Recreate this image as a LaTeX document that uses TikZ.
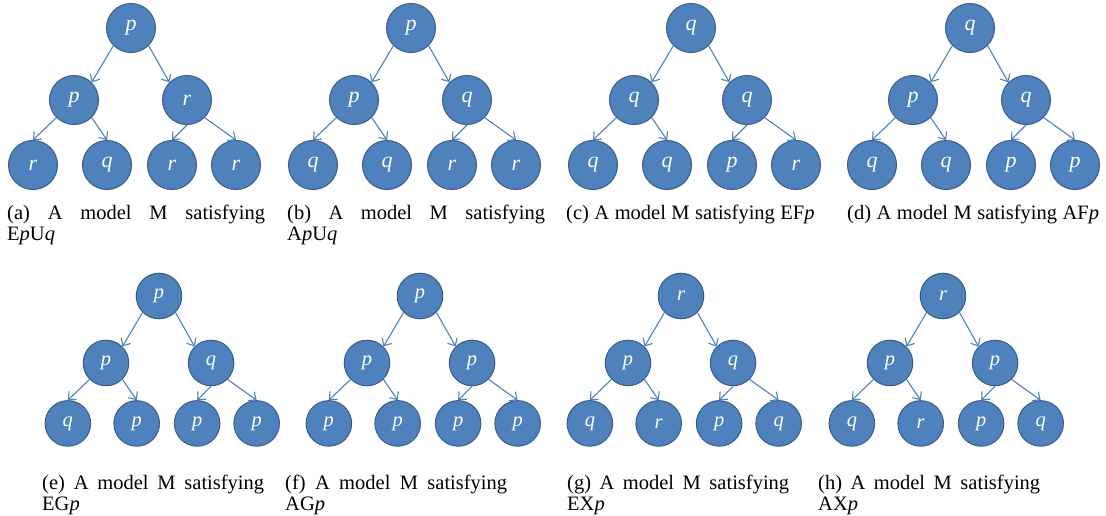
\documentclass[tikz,border=0pt]{standalone}
\usepackage{fontspec}
\setmainfont{Liberation Serif}
\usetikzlibrary{arrows.meta}

\definecolor{worldfill}{HTML}{4F81BD}
\definecolor{worldline}{HTML}{385D8A}
\newcommand{\capspace}{\spaceskip=5.5pt plus 30pt minus 1pt\relax}

% one computation tree: name prefix, scope options, root, two children, four leaves
\newcommand{\modeltree}[9]{%
  \begin{scope}[#2]
    \node[world] (#1r) at (0,0) {#3};
    \node[world] (#1a) at (-57,72) {#4};
    \node[world] (#1b) at (56,72) {#5};
    \node[world] (#1c) at (-98,137) {#6};
    \node[world] (#1d) at (-24,137) {#7};
    \node[world] (#1e) at (41,137) {#8};
    \node[world] (#1f) at (105,137) {#9};
    \draw[arr] (#1r.south west) -- (#1a.north east);
    \draw[arr] (#1r.south east) -- (#1b.north west);
    \draw[arr] (#1a.south west) -- (#1c.north);
    \draw[arr] (#1a.south east) -- (#1d.north);
    \draw[arr] (#1b.south) -- (#1e.north);
    \draw[arr] (#1b.south east) -- (#1f.north);
  \end{scope}}

\begin{document}
\begin{tikzpicture}[
  x=1pt, y=-1pt,
  world/.style={circle, draw=worldline, line width=1pt, fill=worldfill,
    minimum size=49pt, inner sep=0pt, text=white,
    font=\fontsize{22}{22}\selectfont\itshape, transform shape},
  arr/.style={-{Straight Barb[length=6pt, width=11pt]}, draw=worldfill, line width=1.1pt},
  caption/.style={anchor=north west, inner sep=0pt, align=justify,
    font=\fontsize{20.5}{21}\selectfont\capspace},
  topcap/.style={caption, text width=258pt},
  lowcap/.style={caption, text width=222pt},
]
\useasboundingbox (0,0) rectangle (1106,515);

% ===== top row =====
\modeltree{ta}{shift={(131,28)}}{p}{p}{r}{r}{q}{r}{r}
\modeltree{tb}{shift={(411,28)}}{p}{p}{q}{q}{q}{r}{r}
\modeltree{tc}{shift={(691,28)}}{q}{q}{q}{q}{q}{p}{r}
\modeltree{td}{shift={(970,28)}}{q}{p}{q}{q}{q}{p}{p}

\node[topcap] (capa) at (7,205) {(a) A model M satisfying\linebreak E\textit{p}U\textit{q}};
\node[topcap] (capb) at (287,205) {(b) A model M satisfying\linebreak A\textit{p}U\textit{q}};
\node[topcap] (capc) at (566,205) {(c) A model M satisfying EF\textit{p}};
\node[topcap] (capd) at (847,205) {(d) A model M satisfying AF\textit{p}};

% ===== bottom row =====
\modeltree{ba}{shift={(159,296)}, scale=0.93}{p}{p}{q}{q}{p}{p}{p}
\modeltree{bb}{shift={(420,296)}, scale=0.93}{p}{p}{p}{p}{p}{p}{p}
\modeltree{bc}{shift={(681,296)}, scale=0.93}{r}{p}{q}{q}{r}{p}{q}
\modeltree{bd}{shift={(943,296)}, scale=0.93}{r}{p}{p}{q}{r}{p}{q}

\node[lowcap] (cape) at (42,475) {(e) A model M satisfying\linebreak EG\textit{p}};
\node[lowcap] (capf) at (285,475) {(f) A model M satisfying\linebreak AG\textit{p}};
\node[lowcap] (capg) at (567,475) {(g) A model M satisfying\linebreak EX\textit{p}};
\node[lowcap] (caph) at (818,475) {(h) A model M satisfying\linebreak AX\textit{p}};

\end{tikzpicture}
\end{document}
